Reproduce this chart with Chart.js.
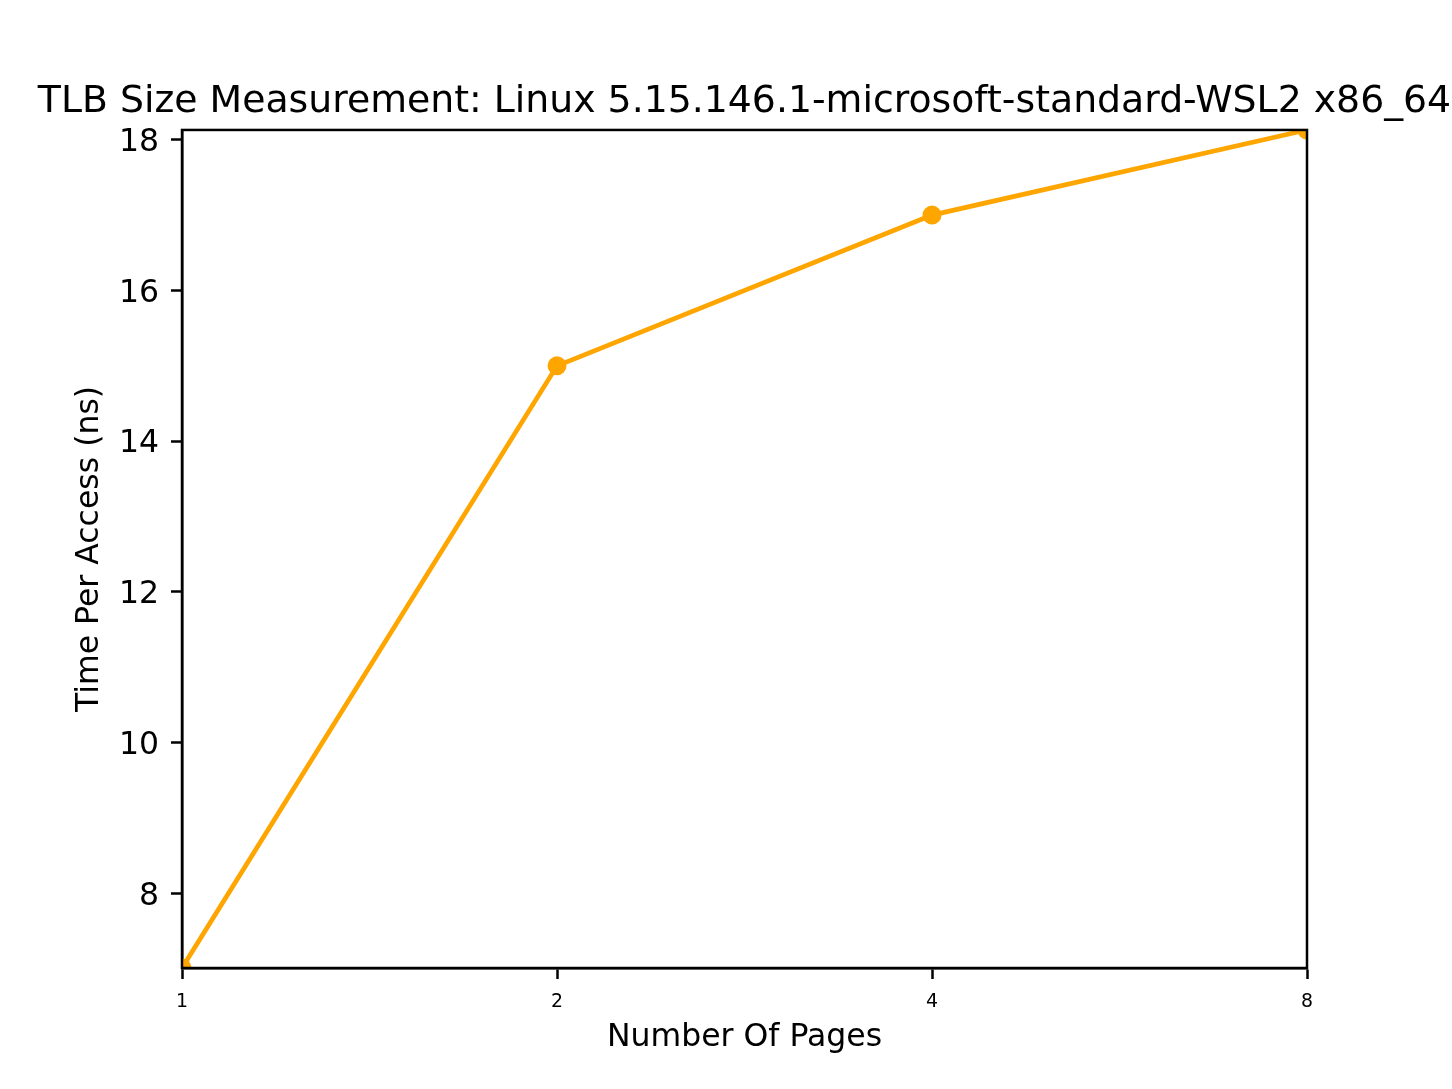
<!DOCTYPE html>
<html>
<head>
<meta charset="utf-8">
<script src="https://cdn.jsdelivr.net/npm/chart.js@4/dist/chart.umd.min.js"></script>
<style>
html, body { margin: 0; padding: 0; background: #ffffff; }
canvas { display: block; }
</style>
</head>
<body>
<canvas id="c" width="1452" height="1089"></canvas>
<script>
// ---- data ----
const pages = [1, 2, 4, 8];
const timePerAccess = [7.01, 15, 17, 18.13];
const xTickValues = [1, 2, 4, 8];
const yTickValues = [8, 10, 12, 14, 16, 18];
const yMin = 7.01;
const yMax = 18.13;
const chartTitle = 'TLB Size Measurement: Linux 5.15.146.1-microsoft-standard-WSL2 x86_64';
const xLabel = 'Number Of Pages';
const yLabel = 'Time Per Access (ns)';

Chart.defaults.font.family = "'DejaVu Sans', sans-serif";
Chart.defaults.color = '#000';

const frame = {
  id: 'frame',
  afterLayout(chart) {
    // centre the (full-width) title over the plot area, as matplotlib does
    const a = chart.chartArea, t = chart.titleBlock;
    if (t) {
      const c = (a.left + a.right) / 2;
      const half = chart.width / 2;
      t.left = c - half;
      t.right = c + half;
    }
  },
  afterDatasetsDraw(chart) {
    const a = chart.chartArea, ctx = chart.ctx;
    ctx.save();
    ctx.strokeStyle = '#000';
    ctx.lineWidth = 2.5;
    ctx.strokeRect(a.left, a.top, a.right - a.left, a.bottom - a.top);
    ctx.restore();
  }
};

new Chart(document.getElementById('c'), {
  type: 'line',
  data: {
    datasets: [{
      data: pages.map((p, i) => ({ x: p, y: timePerAccess[i] })),
      borderColor: '#FFA500',
      backgroundColor: '#FFA500',
      borderWidth: 4.7,
      pointRadius: 9.5,
      pointBorderWidth: 0,
      pointBackgroundColor: '#FFA500',
      tension: 0,
      clip: 0
    }]
  },
  options: {
    responsive: false,
    devicePixelRatio: 1,
    animation: false,
    layout: { padding: { left: 0, right: 145, top: 0, bottom: 0 } },
    plugins: {
      legend: { display: false },
      tooltip: { enabled: false },
      title: {
        display: true,
        text: chartTitle,
        fullSize: true,
        color: '#000',
        font: { size: 37.8, weight: 'normal' },
        padding: { top: 79, bottom: 5.6 }
      }
    },
    scales: {
      x: {
        type: 'logarithmic',
        min: 1,
        max: 8,
        afterBuildTicks(scale) { scale.ticks = xTickValues.map(v => ({ value: v })); },
        afterFit(scale) { scale.height = 121; },
        ticks: {
          font: { size: 18.9 },
          padding: 12,
          maxRotation: 0,
          autoSkip: false,
          callback: v => String(v)
        },
        grid: { drawOnChartArea: false, drawTicks: true, tickLength: 11, tickWidth: 2.5, tickColor: '#000' },
        border: { display: true, color: '#000', width: 2.5 },
        title: { display: true, text: xLabel, font: { size: 31.5 }, padding: { top: 0, bottom: 32 } }
      },
      y: {
        type: 'linear',
        min: yMin,
        max: yMax,
        afterBuildTicks(scale) { scale.ticks = yTickValues.map(v => ({ value: v })); },
        afterFit(scale) { scale.width = 182; },
        ticks: {
          font: { size: 31.5 },
          padding: 12,
          labelOffset: 3,
          callback: v => String(v)
        },
        grid: { drawOnChartArea: false, drawTicks: true, tickLength: 11, tickWidth: 2.5, tickColor: '#000' },
        border: { display: true, color: '#000', width: 2.5 },
        title: { display: true, text: yLabel, font: { size: 31.5 }, padding: { top: 71, bottom: 0 } }
      }
    }
  },
  plugins: [frame]
});
</script>
</body>
</html>
